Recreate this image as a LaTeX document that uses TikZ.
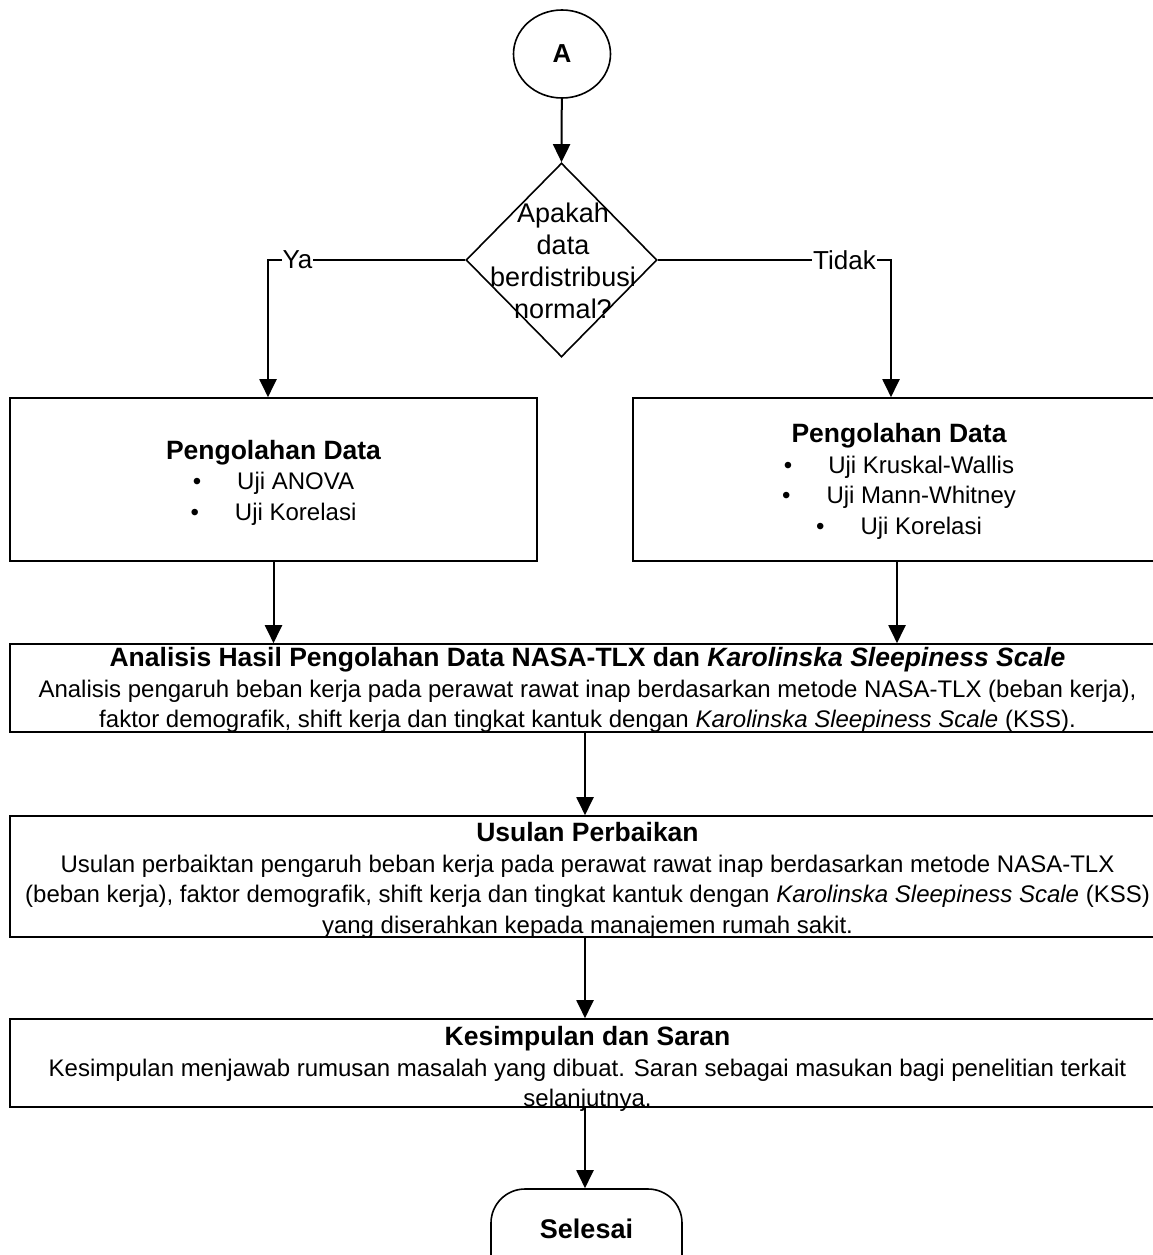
\documentclass[tikz,border=0pt]{standalone}
\usepackage{fontspec}
\setmainfont{Liberation Sans}
\usetikzlibrary{shapes.geometric,arrows.meta,calc}
\begin{document}
\begin{tikzpicture}[x=1pt,y=-1pt,
  box/.style={draw, line width=1.6pt, rectangle, inner sep=0pt},
  txt/.style={inner sep=0pt, align=center, font=\fontsize{24}{30.5}\selectfont},
  arr/.style={line width=2pt, -{Triangle[width=17pt,length=18pt]}},
  lbl/.style={fill=white, inner sep=1pt, font=\fontsize{26}{28}\selectfont}]
\useasboundingbox (0,0) rectangle (1153,1255);
\newcommand{\ttlfont}{\bfseries\fontsize{26.5}{30.5}\selectfont}

\node[draw, ellipse, line width=1.6pt, minimum width=97pt, minimum height=88pt, inner sep=0pt,
  font=\bfseries\fontsize{26}{28}\selectfont] (A) at (562,54) {A};

\node[draw, diamond, line width=1.6pt, minimum width=191pt, minimum height=194pt, inner sep=0pt,
  shape aspect=1] (dia) at (561.5,260) {};
\node[align=center, inner sep=0pt, font=\fontsize{27}{32}\selectfont] (diatext) at (563,261)
  {Apakah\\data\\berdistribusi\\normal?};

\node[box, minimum width=527pt, minimum height=163pt] (L) at (273.5,479.5) {};
\node[txt] (Ltext) at ([yshift=-3pt]L.center)
  {{\ttlfont Pengolahan Data}\\
   \textbullet\hspace{36pt}Uji ANOVA\\
   \textbullet\hspace{36pt}Uji Korelasi};

\node[box, minimum width=532pt, minimum height=163pt] (R) at (899,479.5) {};
\node[txt] (Rtext) at ([yshift=-2pt]R.center)
  {{\ttlfont Pengolahan Data}\\
   \textbullet\hspace{36pt}Uji Kruskal-Wallis\\
   \textbullet\hspace{36pt}Uji Mann-Whitney\\
   \textbullet\hspace{36pt}Uji Korelasi};

\node[box, minimum width=1155pt, minimum height=88pt] (An) at (587.5,688) {};
\node[txt] (Antext) at ([yshift=-2pt]An.center)
  {{\ttlfont Analisis Hasil Pengolahan Data NASA-TLX dan \textit{Karolinska Sleepiness Scale}}\\
   Analisis pengaruh beban kerja pada perawat rawat inap berdasarkan metode NASA-TLX (beban kerja),\\
   faktor demografik, shift kerja dan tingkat kantuk dengan \textit{Karolinska Sleepiness Scale} (KSS).};

\node[box, minimum width=1155pt, minimum height=121pt] (Us) at (587.5,876.5) {};
\node[txt] (Ustext) at ([yshift=-4pt]Us.center)
  {{\ttlfont Usulan Perbaikan}\\
   Usulan perbaiktan pengaruh beban kerja pada perawat rawat inap berdasarkan metode NASA-TLX\\
   (beban kerja), faktor demografik, shift kerja dan tingkat kantuk dengan \textit{Karolinska Sleepiness Scale} (KSS)\\
   yang diserahkan kepada manajemen rumah sakit.};

\node[box, minimum width=1155pt, minimum height=88pt] (Ks) at (587.5,1063) {};
\node[txt] (Kstext) at ([yshift=-6pt]Ks.center)
  {{\ttlfont Kesimpulan dan Saran}\\
   Kesimpulan menjawab rumusan masalah yang dibuat. Saran sebagai masukan bagi penelitian terkait\\
   selanjutnya.};

\node[draw, rectangle, rounded corners=34pt, line width=1.6pt, minimum width=191pt, minimum height=110pt,
  inner sep=0pt] (Sel) at (586.5,1244) {};
\node[inner sep=0pt, font=\bfseries\fontsize{27}{28}\selectfont] (seltext) at (586.5,1229) {Selesai};

% connectors
\draw[arr] (A) -- (dia.north);
\draw[arr] (dia.west) -| ([xshift=-5.5pt]L.north);
\draw[arr] (dia.east) -| ([xshift=-8pt]R.north);
\node[lbl] (ya) at (297.5,260) {Ya};
\node[lbl] (tidak) at (844.5,260) {Tidak};
\draw[arr] (L.south) -- (L.south |- An.north);
\draw[arr] ([xshift=-2pt]R.south) -- ([xshift=-2pt]R.south |- An.north);
\draw[arr] ([xshift=-2.5pt]An.south) -- ([xshift=-2.5pt]Us.north);
\draw[arr] ([xshift=-2.5pt]Us.south) -- ([xshift=-2.5pt]Ks.north);
\draw[arr] ([xshift=-2.5pt]Ks.south) -- ([xshift=-2.5pt]Ks.south |- Sel.north);
\end{tikzpicture}
\end{document}
